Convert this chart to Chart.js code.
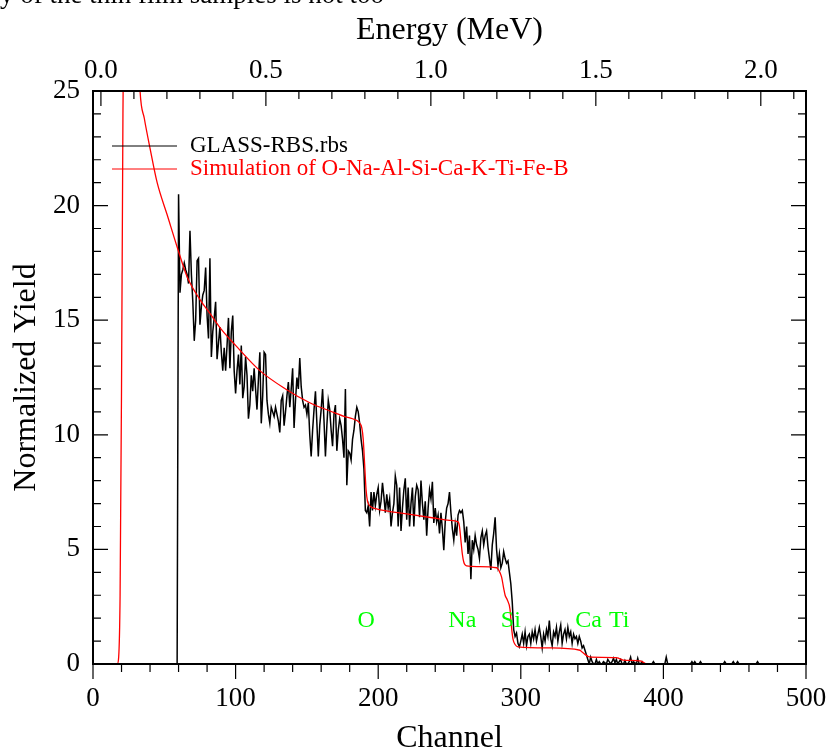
<!DOCTYPE html>
<html>
<head>
<meta charset="utf-8">
<script src="https://cdn.jsdelivr.net/npm/chart.js@4/dist/chart.umd.min.js"></script>
<style>
html,body{margin:0;padding:0;background:#ffffff;overflow:hidden}
canvas{display:block}
</style>
</head>
<body>
<canvas id="c" width="827" height="749"></canvas>
<script>
// ---------------- data ----------------
const channelTicks = [0, 100, 200, 300, 400, 500];
const yieldTicks = [0, 5, 10, 15, 20, 25];
const energyTicks = [0.0, 0.5, 1.0, 1.5, 2.0];
const energyRange = [-0.024, 2.137];          // energy (MeV) at channel 0 and channel 500

const glassLabel = 'GLASS-RBS.rbs';
const simLabel = 'Simulation of O-Na-Al-Si-Ca-K-Ti-Fe-B';

// measured spectrum: flat zero before channel 59
const glassLeadChannels = [0];
const glassLeadYield = [0];
// consecutive channels starting at 59
const glassFirstChannel = 59;
const glassYield = [
  0,
  20.5,16.2,17.0,17.2,17.5,17.2,17.0,16.6,18.9,17.0,
  15.8,14.1,15.0,17.6,17.7,14.8,15.6,16.1,16.3,17.3,
  15.2,14.2,17.7,13.4,14.5,15.1,15.8,13.3,14.0,14.7,
  13.6,12.8,13.8,12.8,13.9,15.1,12.9,14.5,15.2,12.8,
  11.8,12.8,13.5,12.2,13.9,11.6,12.1,13.4,12.6,10.7,
  11.3,12.6,11.9,12.9,12.0,11.1,12.4,13.6,10.5,11.7,
  13.6,13.5,11.5,10.9,10.5,11.2,11.0,10.8,11.2,10.9,
  10.6,10.1,11.5,11.7,10.4,11.0,11.7,12.3,11.2,12.0,
  12.9,10.3,11.5,12.5,12.0,13.35,12.1,11.5,11.2,11.3,
  10.9,11.4,10.0,9.05,10.2,11.1,11.9,10.5,9.05,10.4,
  11.1,12.0,10.6,9.05,10.4,11.5,11.1,10.2,9.5,10.9,
  11.3,9.3,10.2,10.7,10.4,9.8,9.0,12.0,7.8,9.3,
  9.2,8.9,9.8,10.2,10.8,11.2,11.0,10.5,9.8,9.3,
  8.5,6.7,6.6,6.9,6.0,7.5,6.7,7.5,6.9,7.4,
  7.7,6.7,7.1,7.9,7.3,6.6,7.4,6.8,7.2,6.0,
  6.6,7.0,8.2,7.8,6.0,7.7,5.8,6.8,7.6,8.1,
  6.3,7.7,6.0,7.0,7.7,6.0,7.3,7.8,7.6,6.4,
  8.0,7.0,6.3,7.1,5.6,6.8,7.6,7.2,7.95,6.15,
  6.8,6.2,6.5,5.7,6.6,5.9,4.97,6.2,6.8,7.0,
  7.5,6.6,5.9,5.4,6.1,5.6,6.5,6.7,6.6,6.7,
  6.2,5.3,6.0,4.8,5.6,3.7,5.4,5.0,5.6,5.2,
  5.0,4.6,5.5,5.8,5.2,5.6,5.8,5.1,4.6,4.1,
  5.2,5.7,6.4,5.0,4.3,4.8,4.2,4.4,4.9,4.6,
  4.4,4.5,4.0,3.5,2.7,1.5,1.2,1.35,0.9,0.75,
  1.0,1.3,0.9,1.4,0.8,1.2,1.3,0.9,1.4,1.1,
  1.5,1.0,1.3,1.6,1.2,0.7,1.3,1.0,1.5,1.2,
  1.9,1.1,0.8,1.4,1.2,1.6,1.0,1.4,1.7,0.9,
  1.3,1.5,1.1,1.6,1.2,1.4,0.9,1.3,1.1,1.2,
  0.9,1.2,1.0,0.7,0.8,0.6,0.4,0.2,0.0,0.3,
  0.1,0,0,0.2,0,0.1,0,0,0.1,0.05,
  0,0.2,0.1,0,0.1,0.25,0.05,0.2,0,0.1,
  0.2,0,0,0.15,0,0,0.1,0.3,0,0.1,
  0.05,0,0.25,0,0,0.1,0,0,0,0,
  0,0,0,0.1,0,0,0,0,0,0,
  0,0,0.3,0,0,0
];
// sparse counts in the tail
const glassTailChannels = [406,419,420,421,422,423,425,426,427,442,443,444,448,449,450,451,452,453,465,466,467,500];
const glassTailYield    = [0,  0,  0.1,0,  0.1,0,  0,  0.1,0,  0,  0.1,0,  0,  0.1,0,  0,  0.1,0,  0,  0.1,0,  0];

// simulation curve
const simChannels = [0,17,18,19,20,21,22,24,27,30,33,36,40,45,52,60,66,75,82,90,100,117,135,152,170,176,182,186.5,188.5,189.5,190.5,191.5,192.5,193.5,195,200,220,239,250,256,257,258,259,260,261,262,270,283,284.5,286.5,288,289,290.5,292.4,293.5,294.5,296,298,320,341.5,343,345,347.4,349,367,369,371.7,383.6,386,388,500];
const simYield    = [0,0,0.3,3,12,24,32,38,36,30,25.0,23.8,22.5,21.0,19.6,18.0,16.9,15.9,15.3,14.6,13.9,12.8,12.0,11.4,10.95,10.8,10.7,10.55,10.3,9.8,8.7,7.6,7.1,6.95,6.85,6.75,6.55,6.37,6.27,6.2,6.0,5.4,4.8,4.45,4.32,4.28,4.25,4.2,4.1,3.8,3.3,3.0,2.8,2.4,1.6,1.1,0.85,0.75,0.7,0.6,0.52,0.42,0.32,0.3,0.28,0.24,0.17,0.14,0.07,0,0];

// element surface-edge markers
const elementNames = ['O', 'Na', 'Si', 'Ca', 'Ti'];
const elementChannels = [191.5, 259, 293, 347.5, 369];
const elementLabelYield = 1.9;

const pageTextAbove = 'y of the thin film samples is not too';

// ---------------- build ----------------
const glassPoints = [];
glassLeadChannels.forEach((c, i) => glassPoints.push({x: c, y: glassLeadYield[i]}));
glassYield.forEach((v, i) => glassPoints.push({x: glassFirstChannel + i, y: v}));
glassTailChannels.forEach((c, i) => glassPoints.push({x: c, y: glassTailYield[i]}));
const simPoints = simChannels.map((c, i) => ({x: c, y: simYield[i]}));

const SERIF = "'Liberation Serif', 'Times New Roman', Times, serif";
const TICK_FONT = {family: SERIF, size: 27};
const TITLE_FONT = {family: SERIF, size: 32};

function noPad(s) { s.paddingLeft = 0; s.paddingRight = 0; s.paddingTop = 0; s.paddingBottom = 0; }

const decorPlugin = {
  id: 'decor',
  afterDatasetsDraw(chart) {
    const {ctx, chartArea: {left, right, top, bottom}, scales: {x, x2, y}} = chart;
    ctx.save();
    ctx.strokeStyle = '#000';
    ctx.lineWidth = 1.2;
    ctx.beginPath();
    for (let v = 0; v <= 25; v += 1) {
      const py = y.getPixelForValue(v);
      const len = v % 5 === 0 ? 15 : 8;
      ctx.moveTo(left, py); ctx.lineTo(left + len, py);
      ctx.moveTo(right, py); ctx.lineTo(right - len, py);
    }
    for (let v = 0; v <= 500; v += 20) {
      const px = x.getPixelForValue(v);
      const len = v % 100 === 0 ? 15 : 8;
      ctx.moveTo(px, bottom); ctx.lineTo(px, bottom + len);
    }
    for (let i = 0; i <= 21; i++) {
      const px = x2.getPixelForValue(i / 10);
      const len = i % 5 === 0 ? 15 : 8;
      ctx.moveTo(px, top); ctx.lineTo(px, top + len);
    }
    ctx.stroke();
    ctx.lineWidth = 2;
    ctx.strokeRect(left, top, right - left, bottom - top);

    // legend (inside plot, upper left)
    const ds = chart.data.datasets;
    ctx.font = '23px ' + SERIF;
    ctx.textBaseline = 'middle';
    ctx.textAlign = 'left';
    const legY = [146, 169];
    ds.forEach((d, i) => {
      ctx.strokeStyle = d.borderColor;
      ctx.lineWidth = 1;
      ctx.beginPath();
      ctx.moveTo(112, legY[i]); ctx.lineTo(177, legY[i]);
      ctx.stroke();
      ctx.fillStyle = d.borderColor;
      ctx.fillText(d.label, 190, legY[i]);
    });

    // element labels
    ctx.fillStyle = '#00ff00';
    ctx.textAlign = 'center';
    ctx.font = '24px ' + SERIF;
    const ly = y.getPixelForValue(elementLabelYield);
    elementNames.forEach((n, i) => {
      ctx.fillText(n, x.getPixelForValue(elementChannels[i]), ly);
    });

    // clipped running text of the surrounding page
    ctx.fillStyle = '#000';
    ctx.textAlign = 'left';
    ctx.textBaseline = 'alphabetic';
    ctx.font = '27px ' + SERIF;
    ctx.fillText(pageTextAbove, 0, 3);
    ctx.restore();
  }
};

new Chart(document.getElementById('c'), {
  type: 'line',
  data: {
    datasets: [
      {label: glassLabel, data: glassPoints, borderColor: '#000000', borderWidth: 1.5,
       pointRadius: 0, tension: 0, order: 1, xAxisID: 'x', yAxisID: 'y'},
      {label: simLabel, data: simPoints, borderColor: '#ff0000', borderWidth: 1.3,
       pointRadius: 0, cubicInterpolationMode: 'monotone', order: 0, xAxisID: 'x', yAxisID: 'y'}
    ]
  },
  options: {
    responsive: false,
    animation: false,
    events: [],
    layout: {padding: 0},
    plugins: {legend: {display: false}, tooltip: {enabled: false}},
    scales: {
      x: {
        type: 'linear', position: 'bottom', min: 0, max: 500,
        afterBuildTicks: s => { s.ticks = channelTicks.map(v => ({value: v})); },
        afterFit: s => { s.height = 85; noPad(s); },
        grid: {display: false, drawTicks: false}, border: {display: false},
        ticks: {font: TICK_FONT, color: '#000', padding: 19, maxRotation: 0, autoSkip: false},
        title: {display: true, text: 'Channel', font: TITLE_FONT, color: '#000', padding: {top: 0, bottom: -9}}
      },
      x2: {
        type: 'linear', position: 'top', min: energyRange[0], max: energyRange[1],
        afterBuildTicks: s => { s.ticks = energyTicks.map(v => ({value: v})); },
        afterFit: s => { s.height = 91; noPad(s); },
        grid: {display: false, drawTicks: false}, border: {display: false},
        ticks: {font: TICK_FONT, color: '#000', padding: 4, maxRotation: 0, autoSkip: false,
                callback: v => Number(v).toFixed(1)},
        title: {display: true, text: 'Energy (MeV)', font: TITLE_FONT, color: '#000', padding: {top: 11, bottom: 0}}
      },
      y: {
        type: 'linear', position: 'left', min: 0, max: 25,
        afterBuildTicks: s => { s.ticks = yieldTicks.map(v => ({value: v})); },
        afterFit: s => { s.width = 93; noPad(s); },
        grid: {display: false, drawTicks: false}, border: {display: false},
        ticks: {font: TICK_FONT, color: '#000', padding: 13, autoSkip: false},
        title: {display: true, text: 'Normalized Yield', font: TITLE_FONT, color: '#000', padding: {top: 7, bottom: 0}}
      },
      y2: {
        type: 'linear', position: 'right', min: 0, max: 25,
        afterFit: s => { s.width = 21; noPad(s); },
        grid: {display: false, drawTicks: false}, border: {display: false},
        ticks: {display: false}
      }
    }
  },
  plugins: [decorPlugin]
});
</script>
</body>
</html>
